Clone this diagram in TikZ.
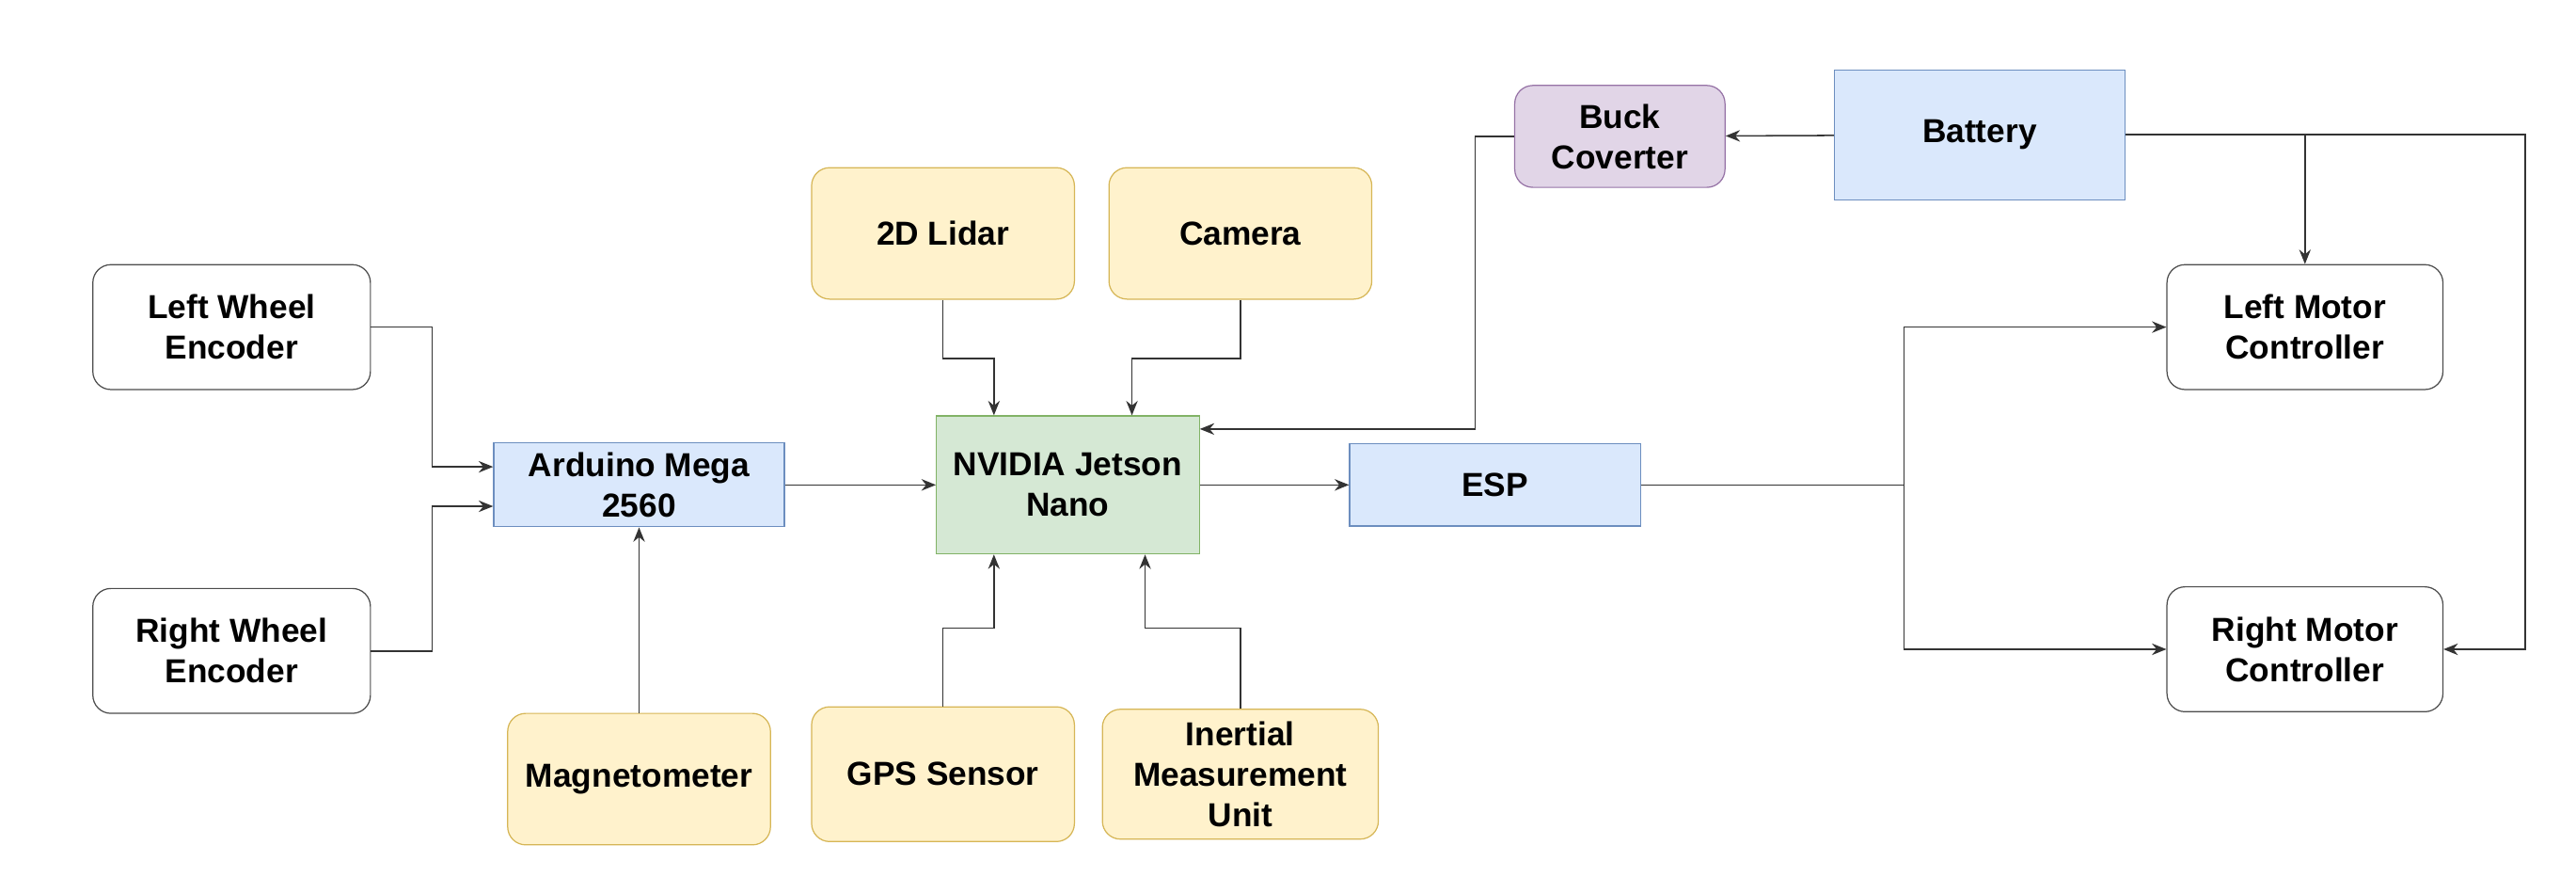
\documentclass[tikz,border=0pt]{standalone}
\usepackage{fontspec}
\setmainfont{Liberation Sans}
\usetikzlibrary{arrows.meta}

\definecolor{ylwfill}{HTML}{FFF2CC}
\definecolor{ylwline}{HTML}{D6B656}
\definecolor{blufill}{HTML}{DAE8FC}
\definecolor{bluline}{HTML}{6C8EBF}
\definecolor{grnfill}{HTML}{D5E8D4}
\definecolor{grnline}{HTML}{82B366}
\definecolor{prpfill}{HTML}{E1D5E7}
\definecolor{prpline}{HTML}{9673A6}
\definecolor{wire}{HTML}{333333}

\tikzset{
  blk/.style={align=center, font=\fontsize{11.5}{14}\selectfont\bfseries, inner sep=2pt},
  plain/.style={blk, draw=black!70, rounded corners=0.22cm, fill=white},
  sensor/.style={blk, draw=ylwline, fill=ylwfill, rounded corners=0.22cm},
  board/.style={blk, draw=bluline, fill=blufill},
  brain/.style={blk, draw=grnline, fill=grnfill},
  power/.style={blk, draw=prpline, fill=prpfill, rounded corners=0.22cm},
  arr/.style={draw=wire, line width=0.5pt, -{Stealth[length=5pt,width=4pt]}},
  ln/.style={draw=wire, line width=0.5pt}
}

\begin{document}
\begin{tikzpicture}[x=0.02cm,y=-0.02cm]
  \useasboundingbox (0,0) rectangle (1568,543);
  % nodes
  \node[plain, minimum width=3.38cm, minimum height=1.52cm] (lwe) at (141,199) {Left Wheel\\Encoder};
  \node[plain, minimum width=3.38cm, minimum height=1.52cm] (rwe) at (141,396) {Right Wheel\\Encoder};
  \node[board, minimum width=3.54cm, minimum height=1.02cm] (mega) at (389,295) {Arduino Mega\\2560};
  \node[sensor, minimum width=3.2cm, minimum height=1.6cm] (mag) at (389,474) {Magnetometer};
  \node[sensor, minimum width=3.2cm, minimum height=1.6cm] (lidar) at (574,142) {2D Lidar};
  \node[sensor, minimum width=3.2cm, minimum height=1.6cm] (cam) at (755,142) {Camera};
  \node[brain, minimum width=3.2cm, minimum height=1.68cm] (jetson) at (650,295) {NVIDIA Jetson\\Nano};
  \node[sensor, minimum width=3.2cm, minimum height=1.64cm] (gps) at (574,471) {GPS Sensor};
  \node[sensor, minimum width=3.36cm, minimum height=1.58cm] (imu) at (755,471) {Inertial\\Measurement\\Unit};
  \node[power, minimum width=2.56cm, minimum height=1.24cm] (buck) at (986,83) {Buck\\Coverter};
  \node[board, minimum width=3.54cm, minimum height=1.58cm] (bat) at (1205,82) {Battery};
  \node[board, minimum width=3.54cm, minimum height=1.0cm] (esp) at (910,295) {ESP};
  \node[plain, minimum width=3.36cm, minimum height=1.52cm] (lmc) at (1403,199) {Left Motor\\Controller};
  \node[plain, minimum width=3.36cm, minimum height=1.52cm] (rmc) at (1403,395) {Right Motor\\Controller};
  % connectors
  \draw[arr] (lwe.east) -| (263,284) -- (mega.west |- 0,284);
  \draw[arr] (rwe.east) -| (263,308) -- (mega.west |- 0,308);
  \draw[arr] (mega) -- (jetson);
  \draw[arr] (mag) -- (mega);
  \draw[arr] (lidar.south) |- (605,218) -- (jetson.north -| 605,0);
  \draw[arr] (cam.south) |- (689,218) -- (jetson.north -| 689,0);
  \draw[arr] (gps.north) |- (605,382) -- (jetson.south -| 605,0);
  \draw[arr] (imu.north) |- (697,382) -- (jetson.south -| 697,0);
  \draw[arr] (jetson) -- (esp);
  \draw[arr] (bat) -- (buck);
  \draw[arr] (buck.west) -| (898,261) -- (jetson.east |- 0,261);
  \draw[ln] (esp.east) -- (1159,295);
  \draw[arr] (1159,295) |- (lmc.west);
  \draw[arr] (1159,295) |- (rmc.west);
  \draw[arr] (bat.east) -| (lmc.north);
  \draw[arr] (bat.east) -| (1537,395) -- (rmc.east);
\end{tikzpicture}
\end{document}
